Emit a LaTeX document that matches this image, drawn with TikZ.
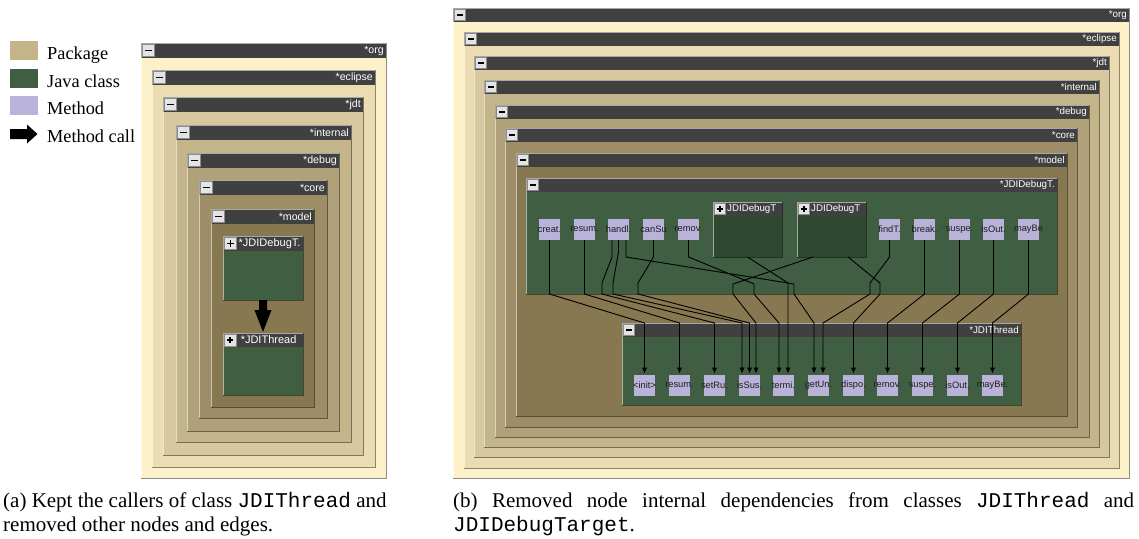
\documentclass[tikz,border=0pt]{standalone}
\usepackage{fontspec}
\setmainfont{Liberation Serif}
\setsansfont{Liberation Sans}
\setmonofont{Liberation Mono}
\usetikzlibrary{arrows.meta}
\definecolor{cOrg}{HTML}{FDF1CA}
\definecolor{cEcl}{HTML}{EBDCB2}
\definecolor{cJdt}{HTML}{D7C8A0}
\definecolor{cInt}{HTML}{C4B48A}
\definecolor{cDbg}{HTML}{B1A17A}
\definecolor{cCore}{HTML}{9E8D66}
\definecolor{cModel}{HTML}{877852}
\definecolor{cClass}{HTML}{3F5E42}
\definecolor{cInner}{HTML}{2D482E}
\definecolor{cHdr}{HTML}{404040}
\definecolor{cMeth}{HTML}{B9B3DA}
\definecolor{cBtn}{HTML}{E4E4E4}
\definecolor{cBtnB}{HTML}{8C8C8C}
\definecolor{cTxt}{HTML}{1E1E1E}
\tikzset{
  boxnode/.style={anchor=north west, rectangle, inner sep=0pt, outer sep=0pt, draw=none},
  shadowln/.style={draw=black, draw opacity=0.45, line width=0.8pt},
  hiln/.style={draw=white, draw opacity=0.55, line width=0.8pt},
  hdrtext/.style={text=white, font=\sffamily\fontsize{10.6}{12}\selectfont, inner sep=0pt},
  clstext/.style={text=white, font=\sffamily\fontsize{11}{12}\selectfont, inner sep=0pt},
  btn/.style={draw=cBtnB, fill=cBtn, minimum size=12pt, inner sep=0pt, line width=0.5pt},
  mbar/.style={draw=black, line width=1.8pt},
  meth/.style={fill=cMeth, minimum size=21pt, inner sep=0pt, outer sep=0pt},
  mlabel/.style={text=cTxt, font=\sffamily\fontsize{9.3}{11}\selectfont, inner sep=0pt},
  edge/.style={draw=black, line width=0.9pt, -{Latex[length=6pt,width=5.5pt]}, shorten >=1.5pt},
  swatch/.style={minimum width=28pt, minimum height=19pt, inner sep=0pt},
  legtext/.style={anchor=base west, font=\fontsize{18.3}{22}\selectfont, inner sep=0pt},
  captxt/.style={anchor=base west, font=\fontsize{21}{24}\selectfont, inner sep=0pt},
}
\def\barlen{3.2pt}
\newcommand{\mbtn}[3]{%
  \node[btn] (#1) at (#2,#3) {};
  \draw[mbar] ([xshift=-\barlen]#1.center) -- ([xshift=\barlen]#1.center);}
\newcommand{\plbtn}[3]{%
  \mbtn{#1}{#2}{#3}%
  \draw[mbar] ([yshift=-\barlen]#1.center) -- ([yshift=\barlen]#1.center);}
% name, x1, y1, x2, y2, fill, label, header height
\newcommand{\pkgbox}[8]{%
  \node[boxnode, fill=#6, minimum width={#4-#2}, minimum height={#5-#3}] (#1) at (#2,#3) {};
  \fill[cHdr] (#2,#3) rectangle (#4,{#3+#8});
  \draw[shadowln] (#1.south west) -- (#1.south east) -- (#1.north east);
  \draw[hiln] (#1.south west) -- (#1.north west) -- (#1.north east);
  \node[hdrtext, anchor=east] (#1-t) at ({#4-2},{#3+#8/2}) {#7};
  \mbtn{#1-b}{{#2+#8/2}}{{#3+#8/2}}%
}
\newcommand{\clsbox}[8]{%
  \node[boxnode, fill=#6, minimum width={#4-#2}, minimum height={#5-#3}] (#1) at (#2,#3) {};
  \fill[cHdr] (#2,#3) rectangle (#4,{#3+#8});
  \draw[shadowln] (#1.south west) -- (#1.south east) -- (#1.north east);
  \draw[hiln] (#1.south west) -- (#1.north west) -- (#1.north east);
  \node[clstext, anchor=west] (#1-t) at ({#2+#8+0.5},{#3+#8/2}) {#7};
  \plbtn{#1-b}{{#2+#8/2}}{{#3+#8/2}}%
}
\begin{document}
\begin{tikzpicture}[x=1pt,y=-1pt]
\useasboundingbox (0,0) rectangle (1139,538);
\fill[white] (0,0) rectangle (1139,538);

% ---------------- legend
\node[swatch, fill=cInt] (lgP) at (24,50.5) {};
\node[swatch, fill=cClass] (lgC) at (24,78.5) {};
\node[swatch, fill=cMeth] (lgM) at (24,105.5) {};
\node[legtext] (lgPt) at (47,59.5) {Package};
\node[legtext] (lgCt) at (47,87) {Java class};
\node[legtext] (lgMt) at (47,114) {Method};
\node[legtext] (lgAt) at (47,142) {Method call};
\coordinate (lgA) at (10,134);
\fill[black] (lgA) ++(0,-5) -- ++(17,0) -- ++(0,-4.5) -- ++(10.5,9.5) -- ++(-10.5,9.5) -- ++(0,-4.5) -- ++(-17,0) -- cycle;

% ---------------- diagram (a)
\begin{scope}
\pkgbox{La}{141}{43}{386}{478}{cOrg}{*org}{15}
\pkgbox{Lb}{152}{70}{375}{467}{cEcl}{*eclipse}{15}
\pkgbox{Lc}{163}{97}{363}{455}{cJdt}{*jdt}{15}
\pkgbox{Ld}{176}{125}{351}{442}{cInt}{*internal}{15}
\pkgbox{Le}{187}{153}{339}{431}{cDbg}{*debug}{15}
\pkgbox{Lf}{199}{180}{327}{418}{cCore}{*core}{15}
\pkgbox{Lg}{211}{209}{314}{407}{cModel}{*model}{15}
\clsbox{Lk1}{223}{236}{303}{300}{cClass}{*JDIDebugT.}{15}
\clsbox{Lk2}{223}{333}{303}{395}{cClass}{\ *JDIThread}{14}
\fill[black] ([xshift=-4pt]Lk1.south) -- ++(8,0) -- ++(0,10) -- ++(4.5,0) -- ([yshift=1pt]Lk2.north) -- ++(-8.5,-22) -- ++(4.5,0) -- cycle;
\end{scope}

% ---------------- diagram (b)
\begin{scope}[hdrtext/.style={text=white, font=\sffamily\fontsize{9.8}{12}\selectfont, inner sep=0pt},
  clstext/.style={text=white, font=\sffamily\fontsize{9.7}{12}\selectfont, inner sep=0pt},
  btn/.style={draw=cBtnB, fill=cBtn, minimum size=11pt, inner sep=0pt, line width=0.5pt},
  mbar/.style={draw=black, line width=1.6pt}]
\def\barlen{3pt}
\pkgbox{Ra}{453}{8}{1129}{478}{cOrg}{*org}{13.5}
\pkgbox{Rb}{464}{32}{1119}{468}{cEcl}{*eclipse}{13.5}
\pkgbox{Rc}{474}{56}{1109}{457}{cJdt}{*jdt}{13.5}
\pkgbox{Rd}{484}{80}{1099}{447}{cInt}{*internal}{13.5}
\pkgbox{Re}{495}{105}{1089}{437}{cDbg}{*debug}{13.5}
\pkgbox{Rf}{505}{128}{1077}{427}{cCore}{*core}{13.5}
\pkgbox{Rg}{516}{153}{1067}{416}{cModel}{*model}{13.5}
\pkgbox{Rk1}{526}{178}{1057}{294}{cClass}{*JDIDebugT.}{13.5}
\pkgbox{Rk2}{622}{323}{1021}{405}{cClass}{*JDIThread}{14}
\clsbox{i1}{713}{202}{782}{257}{cInner}{JDIDebugT}{13.5}
\clsbox{i2}{797}{202}{866}{257}{cInner}{JDIDebugT}{13.5}

% methods of JDIDebugTarget
\node[meth] (a1) at (549.5,229.5) {};  \node[mlabel] (a1-t) at (a1) {creat.};
\node[meth] (a2) at (584.5,229.5) {};  \node[mlabel] (a2-t) at (a2) {resum.};
\node[meth] (a3) at (618.5,229.5) {};  \node[mlabel] (a3-t) at (a3) {handl.};
\node[meth] (a4) at (653.5,229.5) {};  \node[mlabel] (a4-t) at (a4) {canSu};
\node[meth] (a5) at (688.5,229.5) {};  \node[mlabel] (a5-t) at (a5) {remov.};
\node[meth] (a6) at (889.5,229.5) {};  \node[mlabel] (a6-t) at (a6) {findT.};
\node[meth] (a7) at (924.5,229.5) {};  \node[mlabel] (a7-t) at (a7) {break.};
\node[meth] (a8) at (959.5,229.5) {};  \node[mlabel] (a8-t) at (a8) {suspe.};
\node[meth] (a9) at (993.5,229.5) {};  \node[mlabel] (a9-t) at (a9) {isOut.};
\node[meth] (a10) at (1028.5,229.5) {}; \node[mlabel] (a10-t) at (a10) {mayBe};

% methods of JDIThread
\node[meth] (b1) at (644.5,385.5) {};  \node[mlabel] (b1-t) at (b1) {<init>};
\node[meth] (b2) at (679.5,385.5) {};  \node[mlabel] (b2-t) at (b2) {resum.};
\node[meth] (b3) at (714.5,385.5) {};  \node[mlabel] (b3-t) at (b3) {setRu.};
\node[meth] (b4) at (749.5,385.5) {};  \node[mlabel] (b4-t) at (b4) {isSus.};
\node[meth] (b5) at (783.5,385.5) {};  \node[mlabel] (b5-t) at (b5) {termi.};
\node[meth] (b6) at (818.5,385.5) {};  \node[mlabel] (b6-t) at (b6) {getUn.};
\node[meth] (b7) at (853.5,385.5) {};  \node[mlabel] (b7-t) at (b7) {dispo.};
\node[meth] (b8) at (887.5,385.5) {};  \node[mlabel] (b8-t) at (b8) {remov.};
\node[meth] (b9) at (922.5,385.5) {};  \node[mlabel] (b9-t) at (b9) {suspe.};
\node[meth] (b10) at (957.5,385.5) {}; \node[mlabel] (b10-t) at (b10) {isOut.};
\node[meth] (b11) at (992.5,385.5) {}; \node[mlabel] (b11-t) at (b11) {mayBe.};
\end{scope}

% ---------------- method calls
\draw[edge] (a1.south) -- (a1.south |- 0,294) -- (b1.north |- 0,323) -- (b1.north);
\draw[edge] (a2.south) -- (a2.south |- 0,294) -- (b2.north |- 0,323) -- (b2.north);
\draw[edge] ([xshift=-6.5pt]a3.south) -- (612,257) -- (602,283) -- (602,294) -- (b3.north |- 0,323) -- (b3.north);
\draw[edge] (a3.south) -- (618.5,252) -- (613,283) -- (613,294) -- (742,323) -- ([xshift=-7.5pt]b4.north);
\draw[edge] ([xshift=7.5pt]a3.south) -- (626,257) -- (794,284) -- (794,294) -- (814,323) -- ([xshift=-4.5pt]b6.north);
\draw[edge] (a4.south) -- (653.5,257) -- (638,283) -- (638,294) -- (b4.north |- 0,323) -- (b4.north);
\draw[edge] (a5.south) -- (688.5,257) -- (754,284) -- (754,294) -- (779,323) -- ([xshift=-4.5pt]b5.north);
\draw[edge] (i1.south) -- (788,283) -- ([xshift=4.5pt]b5.north);
\draw[edge] ([xshift=-18.5pt]i2.south) -- (733,284) -- (733,294) -- (756,323) -- ([xshift=6.5pt]b4.north);
\draw[edge] ([xshift=16.5pt]i2.south) -- (880,283) -- (880,294) -- (b7.north |- 0,323) -- (b7.north);
\draw[edge] (a6.south) -- (889.5,257) -- (870,283) -- (870,294) -- (823,323) -- ([xshift=4.5pt]b6.north);
\draw[edge] (a7.south) -- (a7.south |- 0,294) -- (b8.north |- 0,323) -- (b8.north);
\draw[edge] (a8.south) -- (a8.south |- 0,294) -- (b9.north |- 0,323) -- (b9.north);
\draw[edge] (a9.south) -- (a9.south |- 0,294) -- (b10.north |- 0,323) -- (b10.north);
\draw[edge] (a10.south) -- (a10.south |- 0,294) -- (b11.north |- 0,323) -- (b11.north);

% ---------------- captions
\node[captxt] (capA1) at (3,507) {(a) Kept the callers of class \texttt{JDIThread} and};
\node[captxt] (capA2) at (3,531) {removed other nodes and edges.};
\node[captxt] (capB1) at (453,507) {\makebox[681pt][s]{(b) Removed node internal dependencies from classes \texttt{JDIThread} and}};
\node[captxt] (capB2) at (453,531) {\texttt{JDIDebugTarget}.};
\end{tikzpicture}
\end{document}
